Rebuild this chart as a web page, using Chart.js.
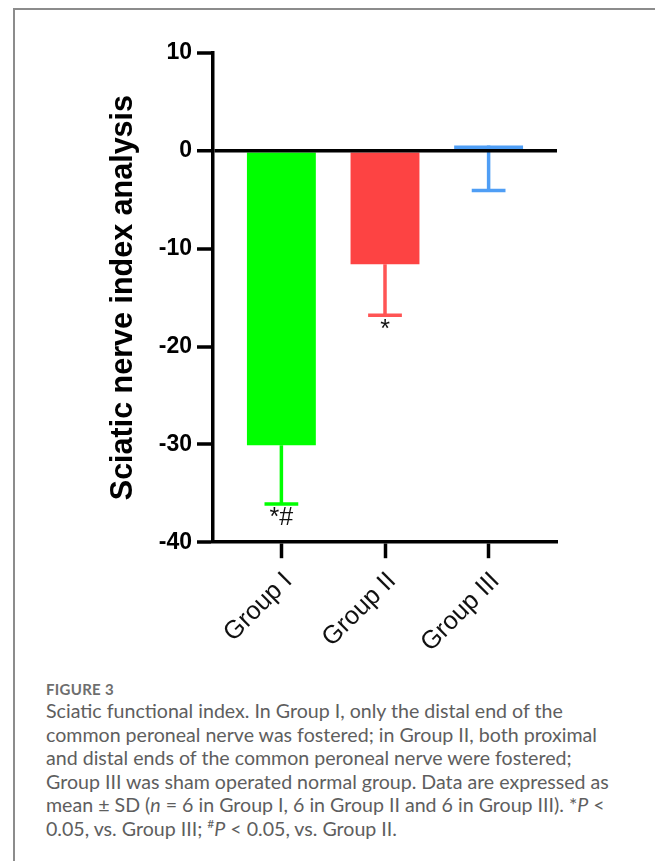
<!DOCTYPE html>
<html>
<head>
<meta charset="utf-8">
<script src="https://cdn.jsdelivr.net/npm/chart.js@4.4.0/dist/chart.umd.min.js"></script>
<style>
  body { margin: 0; background: #fff; }
  #page { position: relative; width: 655px; height: 861px; overflow: hidden; }
  #frame { position: absolute; left: 13px; top: 8px; width: 700px; height: 900px;
    border-left: 2px solid #8c8c8c; border-top: 2px solid #8c8c8c; }
  #chart { position: absolute; left: 0; top: 0; }
  #caption { position: absolute; left: 46px; top: 679px; font-family: Lato, sans-serif;
    color: #5e5e5e; white-space: nowrap; }
  #caption .fig { font-size: 15px; font-weight: bold; color: #6e6e6e; line-height: 20px; letter-spacing: 0.3px; }
  #caption .txt { font-size: 19.6px; line-height: 23.5px; }
  #caption sup { font-size: 12px; line-height: 0; }
</style>
</head>
<body>
<div id="page">
  <div id="frame"></div>
  <canvas id="chart" width="655" height="676"></canvas>
  <div id="caption">
    <div class="fig">FIGURE 3</div>
    <div class="txt">Sciatic functional index. In Group I, only the distal end of the<br>common peroneal nerve was fostered; in Group II, both proximal<br>and distal ends of the common peroneal nerve were fostered;<br>Group III was sham operated normal group. Data are expressed as<br>mean ± SD (<i>n</i> = 6 in Group I, 6 in Group II and 6 in Group III). *<i>P</i> &lt;<br>0.05, vs. Group III; <sup>#</sup><i>P</i> &lt; 0.05, vs. Group II.</div>
  </div>
</div>
<script>
// DATA
const groups = ["Group I", "Group II", "Group III"];
const means = [-30.1, -11.6, 0.55];
const sds = [6.0, 5.2, 4.6];
const marks = ["*#", "*", ""];
const yTicks = [10, 0, -10, -20, -30, -40];

const barColors = ["#00ff00", "#fd4343", "#4f9ef5"];
const errColors = ["#00ff00", "#ff5454", "#4f9ef5"];
const FONT = "'Liberation Sans', Arial, sans-serif";

// error bars (downward only) + significance marks
const errorBars = {
  id: "errorBars",
  afterDatasetsDraw(chart) {
    const { ctx, scales: { y } } = chart;
    const bars = chart.getDatasetMeta(0).data;
    ctx.save();
    bars.forEach((bar, i) => {
      const top = y.getPixelForValue(means[i]);
      const end = y.getPixelForValue(means[i] - sds[i]);
      const half = bar.width * 0.245;
      ctx.strokeStyle = errColors[i];
      ctx.lineWidth = 3.5;
      ctx.beginPath();
      ctx.moveTo(bar.x, top);
      ctx.lineTo(bar.x, end);
      ctx.moveTo(bar.x - half, end);
      ctx.lineTo(bar.x + half, end);
      ctx.stroke();
      if (marks[i]) {
        ctx.fillStyle = "#111";
        ctx.font = "25px " + FONT;
        ctx.textAlign = "center";
        ctx.textBaseline = "top";
        ctx.fillText(marks[i], bar.x, end + 2);
      }
    });
    ctx.restore();
  },
};

const isZero = (c) => c.tick && c.tick.value === 0;

new Chart(document.getElementById("chart"), {
  type: "bar",
  data: {
    datasets: [
      {
        data: groups.map((g, i) => ({ x: i, y: means[i] })),
        backgroundColor: barColors,
        borderWidth: 0,
        categoryPercentage: 0.665,
        barPercentage: 1,
      },
    ],
  },
  options: {
    responsive: false,
    animation: false,
    layout: { padding: { left: 87, right: 98, top: 53, bottom: 10 } },
    plugins: { legend: { display: false }, tooltip: { enabled: false } },
    scales: {
      x: {
        type: "linear",
        offset: false,
        min: -0.66,
        max: 2.66,
        afterBuildTicks: (s) => {
          s.ticks = groups.map((g, i) => ({ value: i }));
        },
        ticks: {
          callback: (v) => groups[v],
          autoSkip: false,
          maxRotation: 45,
          minRotation: 45,
          color: "#111",
          font: { family: FONT, size: 25.5 },
          padding: 8,
          labelOffset: 7,
        },
        grid: { offset: false, drawOnChartArea: false, tickLength: 16, tickWidth: 3.5, tickColor: "#000" },
        border: { color: "#000", width: 3.5 },
      },
      y: {
        min: -40,
        max: 10,
        afterBuildTicks: (s) => {
          s.ticks = yTicks.map((v) => ({ value: v }));
        },
        afterFit: (s) => {
          s.width = 126;
        },
        ticks: {
          color: "#000",
          font: { family: FONT, size: 23, weight: "bold" },
          padding: 5,
        },
        grid: {
          z: 1,
          color: (c) => (isZero(c) ? "#000" : "transparent"),
          lineWidth: (c) => (isZero(c) ? 3.5 : 0),
          tickLength: 16,
          tickWidth: 3.5,
          tickColor: "#000",
        },
        border: { color: "#000", width: 3.5, z: 1 },
        title: {
          display: true,
          text: "Sciatic nerve index analysis",
          color: "#000",
          font: { family: FONT, size: 30.5, weight: "bold" },
          padding: { top: 18, bottom: 0 },
        },
      },
    },
  },
  plugins: [errorBars],
});
</script>
</body>
</html>
